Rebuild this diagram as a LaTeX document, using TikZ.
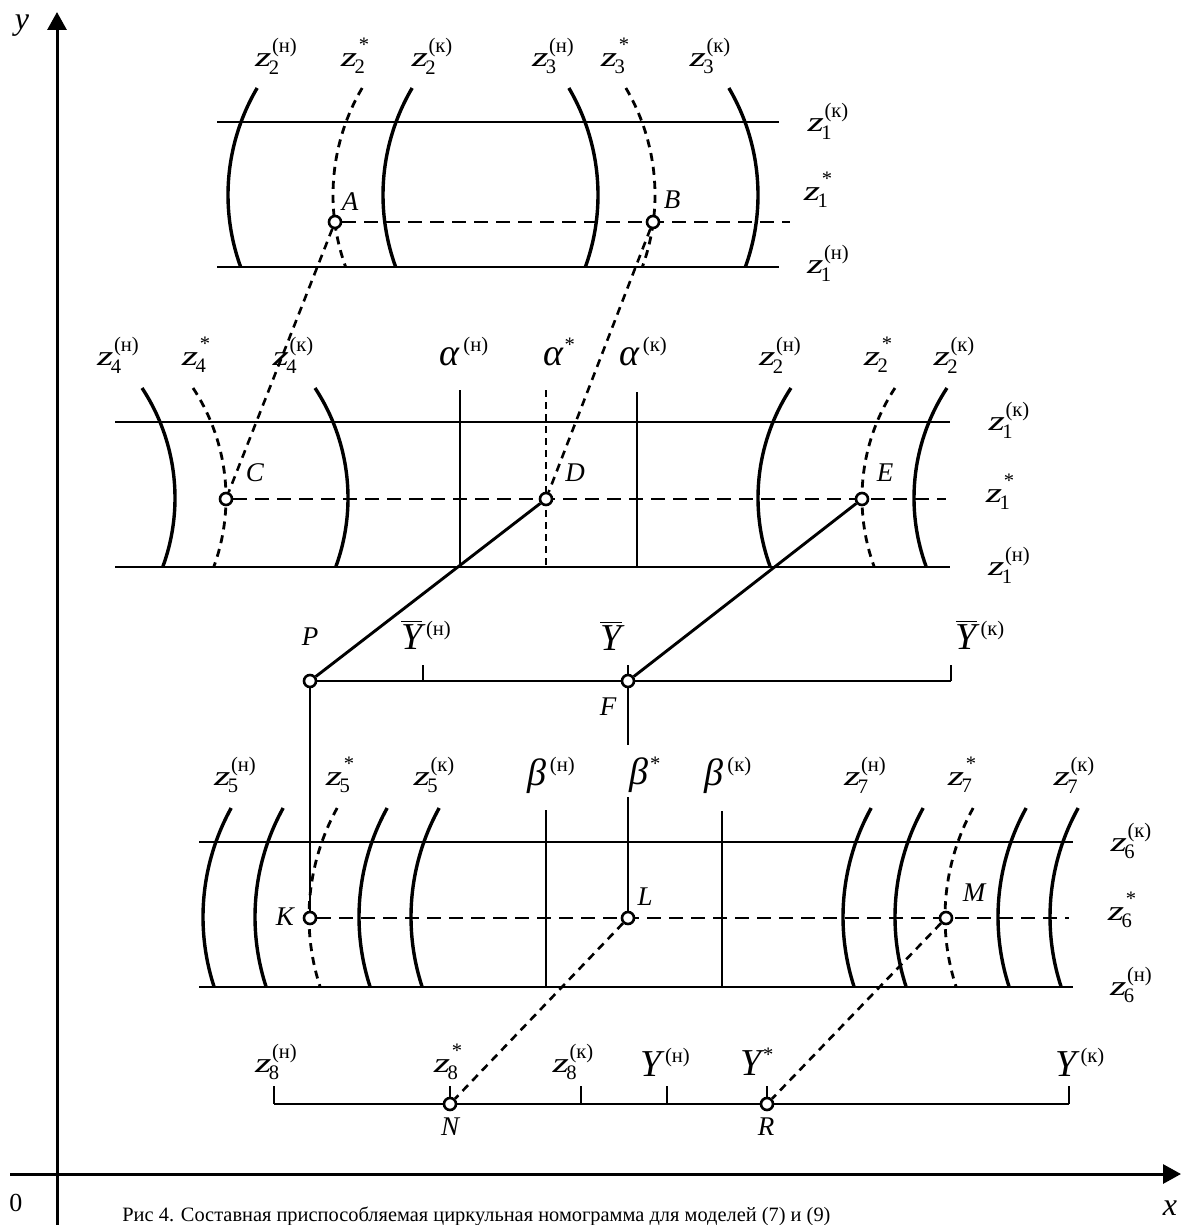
\documentclass[tikz,border=0pt]{standalone}
\usepackage{fontspec}
\usepackage{graphicx}
\setmainfont{Liberation Serif}
\usetikzlibrary{arrows.meta,backgrounds}

\newcommand\sz{\fontsize{10.3}{11}\selectfont}
% stacked superscript / subscript
\newcommand\supsub[2]{\begingroup\sz
  \setbox0\hbox{\raisebox{7.3pt}{#1}}%
  \setbox2\hbox{\raisebox{-3.6pt}{#2}}%
  \ifdim\wd0>\wd2 \rlap{\box2}\box0 \else\rlap{\box0}\box2 \fi\endgroup}
\newcommand\zz{\scalebox{1.5}[1]{\fontsize{14}{16}\selectfont\itshape z}}
\newcommand\zl[2]{\mbox{\zz\kern-1.3pt\supsub{\kern1.6pt(#2)}{#1}}}
\newcommand\zst[1]{\mbox{\zz\kern-1.3pt\supsub{\kern2.2pt*}{#1}}}
\newcommand\bigit[1]{{\fontsize{19}{22}\selectfont\itshape #1}}
\newcommand\gl[2]{\mbox{\bigit{#1}\kern1.8pt\raisebox{7pt}{\sz(#2)}}}
\newcommand\gst[1]{\mbox{\bigit{#1}\kern0.8pt\raisebox{7pt}{\sz*}}}
\newcommand\ybar{$\overline{\mbox{\bigit{Y}}}$}
\newcommand\ybl[1]{\mbox{\ybar\kern1.8pt\raisebox{7pt}{\sz(#1)}}}
% circle arc: [style]{cx}{cy}{r}{ytop}{ybot}; negative r bulges left
\newcommand\myarc[6][]{%
  \pgfmathsetmacro\myaA{asin(((#5)-(#3))/(#4))}%
  \pgfmathsetmacro\myaB{asin(((#6)-(#3))/(#4))}%
  \draw[#1] plot[domain=\myaA:\myaB,samples=40,smooth] ({#2+(#4)*cos(\x)},{#3+(#4)*sin(\x)});%
}

\begin{document}
\begin{tikzpicture}[x=0.5pt,y=-0.5pt,
  lab/.style={inner sep=0pt},
  plab/.style={inner sep=0pt,font=\fontsize{13.5}{15}\selectfont\itshape},
  pt/.style={circle,draw,fill=white,line width=1.3pt,inner sep=0pt,minimum size=6pt},
  ln/.style={line width=1.45pt},
  sarc/.style={line width=1.7pt},
  darc/.style={line width=1.4pt,dash pattern=on 4pt off 3pt},
  dh/.style={line width=1.4pt,dash pattern=on 7pt off 4pt},
  dv/.style={line width=0.9pt,dash pattern=on 3.5pt off 2.5pt},
  dc/.style={line width=1.3pt,dash pattern=on 4pt off 3pt},
  axis/.style={line width=1.5pt,-{Triangle[length=9pt,width=9.5pt]}}]

\useasboundingbox (0,0) rectangle (1181,1225);

% points
\node[pt] (A) at (335,222) {};
\node[pt] (B) at (653,222) {};
\node[pt] (C) at (226,499) {};
\node[pt] (D) at (546,499) {};
\node[pt] (E) at (862,499) {};
\node[pt] (P) at (310,681) {};
\node[pt] (F) at (628,681) {};
\node[pt] (K) at (310,918) {};
\node[pt] (L) at (628,918) {};
\node[pt] (M) at (946,918) {};
\node[pt] (N) at (450,1104) {};
\node[pt] (R) at (767,1104) {};

\coordinate (yb) at (57,1225);
\coordinate (yt) at (57,12);
\coordinate (xl) at (10,1174);
\coordinate (xr) at (1181,1174);
\coordinate (Ae) at (790,222);
\coordinate (Ce) at (946,499);
\coordinate (Ke) at (1069,918);
\coordinate (Ye) at (951,681);
\coordinate (bst) at (628,797);

\begin{scope}[on background layer]
% axes
\draw[axis] (yb) -- (yt);
\draw[axis] (xl) -- (xr);

% block 1
\draw[ln] (217,122) -- (779,122);
\draw[ln] (217,267) -- (779,267);
\draw[dh] (A) -- (Ae);
\myarc[sarc]{439}{195}{-211}{88}{267}
\myarc[darc]{544}{195}{-211}{88}{267}
\myarc[sarc]{594}{195}{-211}{88}{267}
\myarc[sarc]{387}{195}{211}{88}{267}
\myarc[darc]{444}{195}{211}{88}{267}
\myarc[sarc]{547}{195}{211}{88}{267}
\draw[dc] (A) -- (C);
\draw[dc] (B) -- (D);

% block 2
\draw[ln] (115,422) -- (950,422);
\draw[ln] (115,567) -- (950,567);
\draw[dh] (C) -- (Ce);
\myarc[sarc]{-25}{498}{200}{388}{567}
\myarc[darc]{26}{498}{200}{388}{567}
\myarc[sarc]{148}{498}{200}{388}{567}
\myarc[sarc]{958}{498}{-200}{388}{567}
\myarc[darc]{1062}{498}{-200}{388}{567}
\myarc[sarc]{1114}{498}{-200}{388}{567}
\draw[ln] (460,390) -- (460,567);
\draw[dv] (546,390) -- (546,567);
\draw[ln] (637,392) -- (637,567);
\draw[ln] (D) -- (P);
\draw[ln] (E) -- (F);

% Ybar scale
\draw[ln] (P) -- (Ye);
\draw[ln] (423,665) -- (423,681);
\draw[ln] (951,665) -- (951,681);
\draw[ln] (628,665) -- (628,745);
\draw[ln] (P) -- (K);

% block 3
\draw[ln] (199,842) -- (1073,842);
\draw[ln] (199,987) -- (1073,987);
\draw[dh] (K) -- (Ke);
\foreach \c in {428,480,584,636}{\myarc[sarc]{\c}{917}{-225}{808}{987}}
\myarc[darc]{534}{917}{-225}{808}{987}
\foreach \c in {1068,1120,1223,1275}{\myarc[sarc]{\c}{917}{-225}{808}{987}}
\myarc[darc]{1170}{917}{-225}{808}{987}
\draw[ln] (546,810) -- (546,987);
\draw[ln] (bst) -- (L);
\draw[ln] (722,811) -- (722,987);
\draw[dc] (L) -- (N);
\draw[dc] (M) -- (R);

% bottom scale
\draw[ln] (274,1104) -- (1069,1104);
\foreach \t in {274,450,581,667,767,1069}{\draw[ln] (\t,1086) -- (\t,1104);}
\end{scope}

% axis labels
\node[inner sep=0pt,font=\fontsize{16}{18}\selectfont\itshape] (ylab) at (22,26) {y};
\node[inner sep=0pt,font=\fontsize{16}{18}\selectfont\itshape] (xlab) at (1170,1208) {x};
\node[inner sep=0pt,font=\fontsize{13}{15}\selectfont] (olab) at (16,1203) {0};

% block 1 labels
\node[lab] (t1) at (276,56) {\zl{2}{н}};
\node[lab] (t2) at (355,56) {\zst{2}};
\node[lab] (t3) at (432,56) {\zl{2}{к}};
\node[lab] (t4) at (553,56) {\zl{3}{н}};
\node[lab] (t5) at (615,56) {\zst{3}};
\node[lab] (t6) at (710,56) {\zl{3}{к}};
\node[lab] (r1) at (828,121) {\zl{1}{к}};
\node[lab] (r2) at (818,190) {\zst{1}};
\node[lab] (r3) at (828,263) {\zl{1}{н}};

% block 2 labels
\node[lab] (m1) at (118,355) {\zl{4}{н}};
\node[lab] (m2) at (196,355) {\zst{4}};
\node[lab] (m3) at (293,355) {\zl{4}{к}};
\node[lab] (m4) at (464,352) {\gl{α}{н}};
\node[lab] (m5) at (559,352) {\gst{α}};
\node[lab] (m6) at (643,352) {\gl{α}{к}};
\node[lab] (m7) at (780,355) {\zl{2}{н}};
\node[lab] (m8) at (878,355) {\zst{2}};
\node[lab] (m9) at (954,355) {\zl{2}{к}};
\node[lab] (s1) at (1009,420) {\zl{1}{к}};
\node[lab] (s2) at (1000,492) {\zst{1}};
\node[lab] (s3) at (1009,565) {\zl{1}{н}};

% Ybar labels
\node[lab] (y1) at (426,635) {\ybl{н}};
\node[lab] (y2) at (611,636) {\ybar};
\node[lab] (y3) at (980,635) {\ybl{к}};

% block 3 labels
\node[lab] (b1) at (235,775) {\zl{5}{н}};
\node[lab] (b2) at (340,775) {\zst{5}};
\node[lab] (b3) at (434,775) {\zl{5}{к}};
\node[lab] (b4) at (551,775) {\gl{β}{н}};
\node[lab] (b5) at (645,775) {\gst{β}};
\node[lab] (b6) at (728,775) {\gl{β}{к}};
\node[lab] (b7) at (865,775) {\zl{7}{н}};
\node[lab] (b8) at (962,775) {\zst{7}};
\node[lab] (b9) at (1074,775) {\zl{7}{к}};
\node[lab] (u1) at (1131,841) {\zl{6}{к}};
\node[lab] (u2) at (1122,910) {\zst{6}};
\node[lab] (u3) at (1131,985) {\zl{6}{н}};

% bottom labels
\node[lab] (w1) at (276,1062) {\zl{8}{н}};
\node[lab] (w2) at (448,1062) {\zst{8}};
\node[lab] (w3) at (573,1062) {\zl{8}{к}};
\node[lab] (w4) at (665,1062) {\gl{Y}{н}};
\node[lab] (w5) at (757,1062) {\gst{Y}};
\node[lab] (w6) at (1080,1062) {\gl{Y}{к}};

% point labels
\node[plab] (lA) at (350,202) {A};
\node[plab] (lB) at (672,200) {B};
\node[plab] (lC) at (255,473) {C};
\node[plab] (lD) at (575,473) {D};
\node[plab] (lE) at (885,473) {E};
\node[plab] (lP) at (310,637) {P};
\node[plab] (lF) at (608,707) {F};
\node[plab] (lK) at (285,917) {K};
\node[plab] (lL) at (645,897) {L};
\node[plab] (lM) at (974,893) {M};
\node[plab] (lN) at (450,1127) {N};
\node[plab] (lR) at (766,1127) {R};

% caption
\node[inner sep=0pt,anchor=base west,font=\fontsize{10.2}{12}\selectfont] (cap) at (122,1221) {Рис 4. Составная приспособляемая циркульная номограмма для моделей (7) и (9)};
\end{tikzpicture}
\end{document}
